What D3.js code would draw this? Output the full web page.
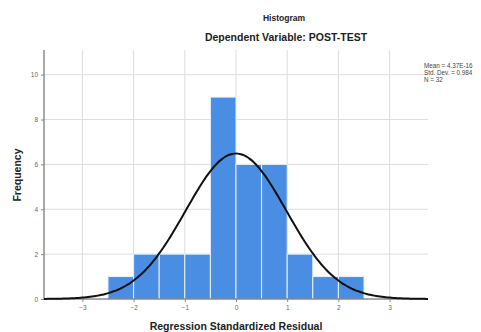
<!DOCTYPE html>
<html><head><meta charset="utf-8">
<script src="https://cdn.jsdelivr.net/npm/d3@7"></script>
<style>body{margin:0;background:#fff}svg{display:block}text{font-family:"Liberation Sans",Arial,sans-serif}</style>
</head><body><div id="c"></div>
<script>
// Data
const binStarts = [-2.5,-2.0,-1.5,-1.0,-0.5,0.0,0.5,1.0,1.5,2.0];
const binWidth = 0.5;
const counts = [1,2,2,2,9,6,6,2,1,1];
const xTicks = [-3,-2,-1,0,1,2,3];
const yTicks = [0,2,4,6,8,10];
const stats = ["Mean = 4.37E-16","Std. Dev. = 0.984","N = 32"];
const meanVal = 0, sdVal = 0.984, nVal = 32;
const titleText = "Histogram";
const subtitleText = "Dependent Variable: POST-TEST";
const xLabel = "Regression Standardized Residual";
const yLabel = "Frequency";

const W=481,H=332;
const svg=d3.select("#c").append("svg").attr("width",W).attr("height",H);
const x=d3.scaleLinear().domain([-3.75,3.75]).range([44,428]);
const y=d3.scaleLinear().domain([0,11.1]).range([299,50]);

// grid
svg.append("g").selectAll("line").data(xTicks).join("line")
  .attr("x1",d=>x(d)).attr("x2",d=>x(d)).attr("y1",y(0)).attr("y2",y.range()[1])
  .attr("stroke","#dcdcdc").attr("stroke-width",1);
svg.append("g").selectAll("line").data(yTicks.filter(d=>d>0)).join("line")
  .attr("x1",x.range()[0]).attr("x2",x.range()[1]).attr("y1",d=>y(d)).attr("y2",d=>y(d))
  .attr("stroke","#dcdcdc").attr("stroke-width",1);

// bars
svg.append("g").selectAll("rect").data(binStarts).join("rect")
  .attr("x",(d)=>x(d)).attr("width",(d)=>x(d+binWidth)-x(d))
  .attr("y",(d,i)=>y(counts[i])).attr("height",(d,i)=>y(0)-y(counts[i]))
  .attr("fill","#4a8ee3").attr("stroke","#e8f1fb").attr("stroke-width",1);

// axes
const xAxis=svg.append("g").attr("transform",`translate(0,${y(0)})`)
  .call(d3.axisBottom(x).tickValues(xTicks).tickSize(3).tickFormat(d3.format("d")));
const yAxis=svg.append("g").attr("transform",`translate(${x.range()[0]},0)`)
  .call(d3.axisLeft(y).tickValues(yTicks).tickSize(3).tickFormat(d3.format("d")));
[xAxis,yAxis].forEach(a=>{
  a.select(".domain").attr("stroke","#555");
  a.selectAll(".tick line").attr("stroke","#888");
  a.selectAll(".tick text").attr("fill","#666").style("font-size","6.5px");
});
xAxis.select(".domain").attr("d",`M${x.range()[0]},0H${x.range()[1]}`);
yAxis.select(".domain").attr("d",`M0,${y.range()[0]}V${y.range()[1]}`);

// normal curve
const pts=d3.range(0,201).map(i=>{
  const v=-3.75+7.5*i/200;
  const dens=nVal*binWidth/(sdVal*Math.sqrt(2*Math.PI))*Math.exp(-0.5*((v-meanVal)/sdVal)**2);
  return [v,dens];
});
svg.append("path").datum(pts)
  .attr("d",d3.line().x(d=>x(d[0])).y(d=>y(d[1])).curve(d3.curveBasis))
  .attr("fill","none").attr("stroke","#111").attr("stroke-width",2);

// titles
svg.append("text").attr("x",284).attr("y",21).attr("text-anchor","middle")
  .style("font-size","8.5px").style("font-weight","bold").attr("fill","#222").text(titleText);
svg.append("text").attr("x",286).attr("y",41).attr("text-anchor","middle")
  .style("font-size","10.5px").style("font-weight","bold").attr("fill","#222").text(subtitleText);
svg.append("text").attr("x",236).attr("y",330).attr("text-anchor","middle")
  .style("font-size","10.5px").style("font-weight","bold").attr("fill","#222").text(xLabel);
svg.append("text").attr("transform","translate(21,175) rotate(-90)").attr("text-anchor","middle")
  .style("font-size","10.5px").style("font-weight","bold").attr("fill","#222").text(yLabel);

// stats legend
svg.append("g").selectAll("text").data(stats).join("text")
  .attr("x",424).attr("y",(d,i)=>68+i*7)
  .style("font-size","6.3px").attr("fill","#444").text(d=>d);
</script></body></html>
